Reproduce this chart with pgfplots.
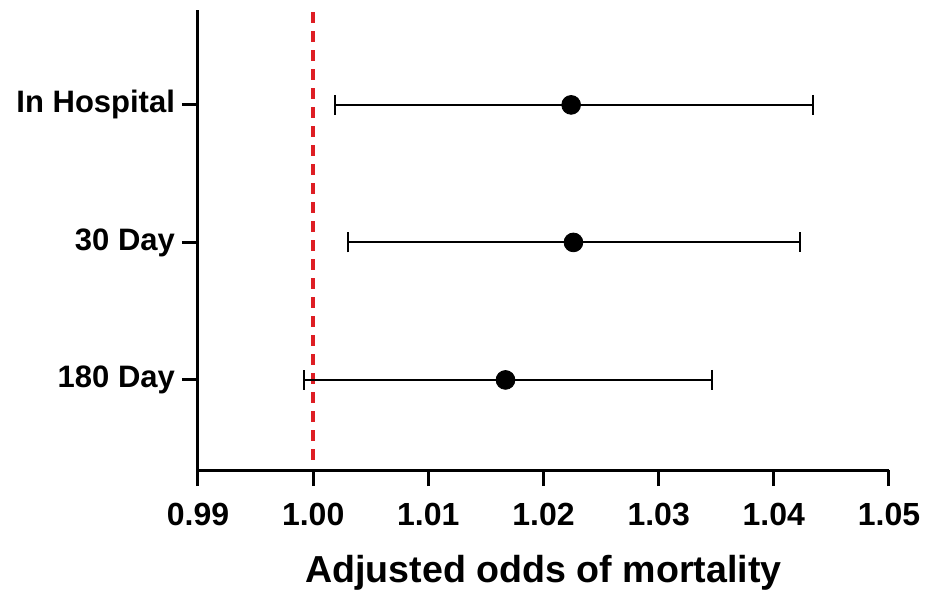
\documentclass[border=0pt]{standalone}
\usepackage{pgfplots}
\pgfplotsset{compat=1.18}
\usepackage{pgfplotstable}
\usepackage{fontspec}
\setmainfont{Liberation Sans}
\definecolor{refred}{RGB}{222,30,36}
\pgfplotstableread{
x y xm xp
1.0224 3 0.0205 0.0210
1.0226 2 0.0196 0.0197
1.0167 1 0.0175 0.0179
}\ortable
\begin{document}
\begin{tikzpicture}
\useasboundingbox (-99pt,-62pt) rectangle (363.5pt,235pt);
\begin{axis}[
  scale only axis,
  width=345.5pt, height=230pt,
  xmin=0.99, xmax=1.05,
  ymin=0.345, ymax=3.69,
  axis x line*=bottom,
  axis y line*=left,
  axis line style={line width=1.5pt, black},
  xtick={0.99,1.00,1.01,1.02,1.03,1.04,1.05},
  xticklabels={0.99,1.00,1.01,1.02,1.03,1.04,1.05},
  ytick={1,2,3},
  yticklabels={180 Day,30 Day,In Hospital},
  tick align=outside,
  major tick length=8pt,
  tick style={line width=1.5pt, black},
  xticklabel style={font=\fontsize{16}{18}\selectfont\bfseries, yshift=-5pt},
  yticklabel style={font=\fontsize{15.5}{18}\selectfont\bfseries},
  xlabel={Adjusted odds of mortality},
  xlabel style={font=\fontsize{18.8}{22}\selectfont\bfseries, yshift=-8pt},
  clip=false,
]
\addplot[refred, line width=1.7pt, dash pattern=on 5.5pt off 4pt] coordinates {(1.00,0.42) (1.00,3.69)};
\addplot[black, only marks, mark=*, mark size=4.7pt,
  error bars/.cd, x dir=both, x explicit,
  error bar style={line width=1pt, black},
  error mark options={black, line width=1pt, mark size=5pt, rotate=90}]
  table[x=x, y=y, x error plus=xp, x error minus=xm] {\ortable};
\end{axis}
\end{tikzpicture}
\end{document}
